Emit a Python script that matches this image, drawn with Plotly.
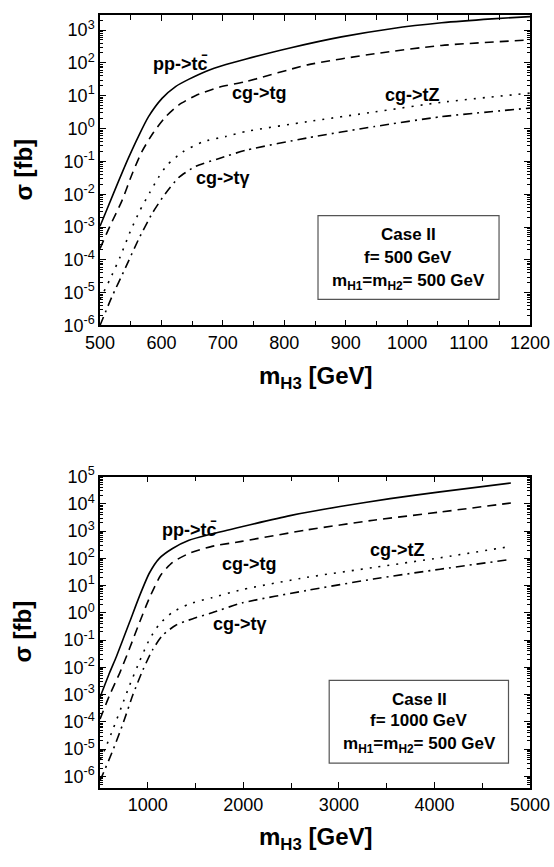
import plotly.graph_objects as go

# ---------------- data ----------------
# Top panel: f = 500 GeV
top_tc_m   = [500, 525, 546, 563, 579, 601, 623, 645, 672, 705, 738, 811, 893, 974, 1056, 1138, 1200]
top_tc_s   = [1.05e-3, 1.45e-2, 0.123, 0.60, 2.3, 8.3, 19, 32, 55, 89, 132, 290, 620, 1100, 1660, 2190, 2570]
top_tg_m   = [500, 516, 536, 552, 568, 587, 607, 628, 656, 694, 738, 838, 947, 1056, 1200]
top_tg_s   = [2.2e-4, 1.05e-3, 6.5e-3, 0.040, 0.195, 0.76, 2.3, 5.2, 10.2, 18.2, 27, 87, 190, 340, 500]
top_tZ_m   = [500, 516, 533, 549, 565, 581, 595, 609, 634, 667, 705, 740, 838, 947, 1056, 1200]
top_tZ_s   = [6.3e-6, 2.5e-5, 1.26e-4, 7.1e-4, 3.2e-3, 0.0112, 0.032, 0.076, 0.19, 0.39, 0.575, 0.83, 1.62, 3.2, 6.3, 12.0]
top_ta_m   = [500, 519, 541, 563, 585, 606, 628, 656, 694, 738, 838, 947, 1056, 1200]
top_ta_s   = [1.0e-6, 7.2e-6, 5.5e-5, 4.3e-4, 2.6e-3, 0.0102, 0.032, 0.071, 0.123, 0.22, 0.52, 1.15, 2.3, 4.2]

# Bottom panel: f = 1000 GeV
bot_tc_m   = [500, 600, 672, 810, 914, 1017, 1121, 1259, 1431, 1672, 1983, 2489, 3012, 3536, 4059, 4800]
bot_tc_s   = [7.9e-4, 6.3e-3, 0.025, 0.46, 4.2, 29, 100, 230, 460, 790, 1450, 3700, 8000, 15500, 27500, 58000]
bot_tg_m   = [500, 603, 707, 810, 914, 1017, 1138, 1259, 1431, 1672, 1983, 2663, 3361, 4059, 4800]
bot_tg_s   = [1.26e-4, 1.0e-3, 6.3e-3, 0.050, 0.45, 3.5, 25, 71, 151, 275, 420, 1100, 2500, 5000, 10700]
bot_tZ_m   = [500, 552, 638, 724, 810, 914, 1017, 1121, 1259, 1431, 1672, 1983, 2663, 3361, 4059, 4800]
bot_tZ_s   = [4.0e-6, 1.0e-5, 5.6e-5, 3.5e-4, 2.2e-3, 0.0166, 0.105, 0.38, 1.05, 2.1, 3.6, 7.1, 20, 46, 105, 275]
bot_ta_m   = [500, 520, 640, 741, 845, 948, 1052, 1155, 1293, 1465, 1672, 1983, 2663, 3361, 4059, 4757]
bot_ta_s   = [7.1e-7, 1.0e-6, 1.0e-5, 8.7e-5, 1.0e-3, 7.9e-3, 0.045, 0.15, 0.35, 0.60, 1.0, 2.3, 6.6, 17.4, 40, 87]

# Ticks
top_x_ticks = [500, 600, 700, 800, 900, 1000, 1100, 1200]
top_x_minor = [550, 650, 750, 850, 950, 1050, 1150]
bot_x_ticks = [1000, 2000, 3000, 4000, 5000]
bot_x_minor = [500, 1500, 2500, 3500, 4500]
top_y_exps = list(range(-6, 4))
bot_y_exps = list(range(-6, 6))

labels = ["pp->tc\u0304", "cg->tg", "cg->tZ", "cg->t\u03b3"]
top_box = ["Case II", "f= 500 GeV", "m<sub>H1</sub>=m<sub>H2</sub>= 500 GeV"]
bot_box = ["Case II", "f= 1000 GeV", "m<sub>H1</sub>=m<sub>H2</sub>= 500 GeV"]

FONT = "Liberation Sans, Arial, sans-serif"
styles = ["solid", "9px,6px", "2px,7px", "9px,5px,2px,5px"]

fig = go.Figure()
top_series = [(top_tc_m, top_tc_s), (top_tg_m, top_tg_s), (top_tZ_m, top_tZ_s), (top_ta_m, top_ta_s)]
bot_series = [(bot_tc_m, bot_tc_s), (bot_tg_m, bot_tg_s), (bot_tZ_m, bot_tZ_s), (bot_ta_m, bot_ta_s)]
for (mx, sy), dash in zip(top_series, styles):
    fig.add_trace(go.Scatter(x=mx, y=sy, mode="lines", xaxis="x", yaxis="y",
                             line=dict(color="black", width=1.6, dash=dash, shape="spline", smoothing=0.6),
                             showlegend=False, hoverinfo="skip"))
for (mx, sy), dash in zip(bot_series, styles):
    fig.add_trace(go.Scatter(x=mx, y=sy, mode="lines", xaxis="x2", yaxis="y2",
                             line=dict(color="black", width=1.6, dash=dash, shape="spline", smoothing=0.6),
                             showlegend=False, hoverinfo="skip"))

def minor_log(exps):
    vals = []
    for e in exps:
        for k in range(2, 10):
            vals.append(k * 10.0 ** e)
    return vals

axis_common = dict(showline=True, linecolor="black", linewidth=1.5, mirror="allticks",
                   ticks="inside", ticklen=6, tickwidth=1.2, tickcolor="black",
                   showgrid=False, zeroline=False,
                   tickfont=dict(family=FONT, size=18, color="black"))

fig.update_layout(
    width=554, height=867,
    margin=dict(l=100, r=24, t=0, b=0),
    paper_bgcolor="white", plot_bgcolor="white",
    font=dict(family=FONT, color="black"),
    xaxis=dict(domain=[0, 1], anchor="y", range=[500, 1200], tickmode="array",
               tickvals=top_x_ticks, ticktext=[str(v) for v in top_x_ticks],
               minor=dict(tickmode="array", tickvals=top_x_minor, ticks="inside", ticklen=5,
                          tickwidth=1.2, tickcolor="black", showgrid=False),
               **axis_common),
    yaxis=dict(domain=[0.629, 0.9965], anchor="x", type="log", range=[-6, 3.46], tickmode="array",
               tickvals=[10.0 ** e for e in top_y_exps],
               ticktext=["10<sup>%d</sup>" % e for e in top_y_exps],
               minor=dict(tickmode="array", tickvals=minor_log(range(-6, 4)), ticks="inside", ticklen=3,
                          tickwidth=1, tickcolor="black", showgrid=False),
               **axis_common),
    xaxis2=dict(domain=[0, 1], anchor="y2", range=[500, 5000], tickmode="array",
                tickvals=bot_x_ticks, ticktext=[str(v) for v in bot_x_ticks],
                minor=dict(tickmode="array", tickvals=bot_x_minor, ticks="inside", ticklen=5,
                           tickwidth=1.2, tickcolor="black", showgrid=False),
                **axis_common),
    yaxis2=dict(domain=[0.0819, 0.4502], anchor="x2", type="log", range=[-6.42, 5], tickmode="array",
                tickvals=[10.0 ** e for e in bot_y_exps],
                ticktext=["10<sup>%d</sup>" % e for e in bot_y_exps],
                minor=dict(tickmode="array", tickvals=minor_log(range(-7, 5)), ticks="inside", ticklen=3,
                           tickwidth=1, tickcolor="black", showgrid=False),
                **axis_common),
)

lab_font = dict(family=FONT, size=18, color="black", weight="bold")
ann = []
top_lab_pos = [(0.188, 0.843), (0.372, 0.749), (0.726, 0.743), (0.286, 0.476)]
bot_lab_pos = [(0.207, 0.827), (0.347, 0.720), (0.691, 0.764), (0.326, 0.526)]
for t, (px, py) in zip(labels, top_lab_pos):
    ann.append(dict(text="<b>%s</b>" % t, x=px, y=py, xref="x domain", yref="y domain",
                    showarrow=False, font=lab_font, xanchor="center", yanchor="middle"))
for t, (px, py) in zip(labels, bot_lab_pos):
    ann.append(dict(text="<b>%s</b>" % t, x=px, y=py, xref="x2 domain", yref="y2 domain",
                    showarrow=False, font=lab_font, xanchor="center", yanchor="middle"))

box_font = dict(family=FONT, size=17, color="black")
for t, py in zip(top_box, [0.294, 0.219, 0.140]):
    ann.append(dict(text="<b>%s</b>" % t, x=0.717, y=py, xref="x domain", yref="y domain",
                    showarrow=False, font=box_font, xanchor="center", yanchor="middle"))
for t, py in zip(bot_box, [0.285, 0.215, 0.139]):
    ann.append(dict(text="<b>%s</b>" % t, x=0.742, y=py, xref="x2 domain", yref="y2 domain",
                    showarrow=False, font=box_font, xanchor="center", yanchor="middle"))

title_font = dict(family=FONT, size=24, color="black")
xt = "<b>m<sub>H3</sub> [GeV]</b>"
yt = "<b>\u03c3 [fb]</b>"
ann.append(dict(text=xt, x=0.5, y=0.5675, xref="paper", yref="paper", showarrow=False,
                font=title_font, xanchor="center", yanchor="middle"))
ann.append(dict(text=xt, x=0.5, y=0.022, xref="paper", yref="paper", showarrow=False,
                font=title_font, xanchor="center", yanchor="middle"))
ann.append(dict(text=yt, x=-0.18, y=0.813, xref="paper", yref="paper", showarrow=False,
                font=title_font, textangle=-90, xanchor="center", yanchor="middle"))
ann.append(dict(text=yt, x=-0.18, y=0.2664, xref="paper", yref="paper", showarrow=False,
                font=title_font, textangle=-90, xanchor="center", yanchor="middle"))
fig.update_layout(annotations=ann)

fig.add_shape(type="rect", xref="x domain", yref="y domain", x0=0.507, x1=0.928, y0=0.0838, y1=0.3536,
              line=dict(color="#555555", width=1.2), fillcolor="rgba(0,0,0,0)")
fig.add_shape(type="rect", xref="x2 domain", yref="y2 domain", x0=0.533, x1=0.950, y0=0.0792, y1=0.3454,
              line=dict(color="#555555", width=1.2), fillcolor="rgba(0,0,0,0)")

fig.write_html("out.html", config={"displayModeBar": False},
               post_script="document.body.style.margin='0';document.body.style.overflow='hidden';")
